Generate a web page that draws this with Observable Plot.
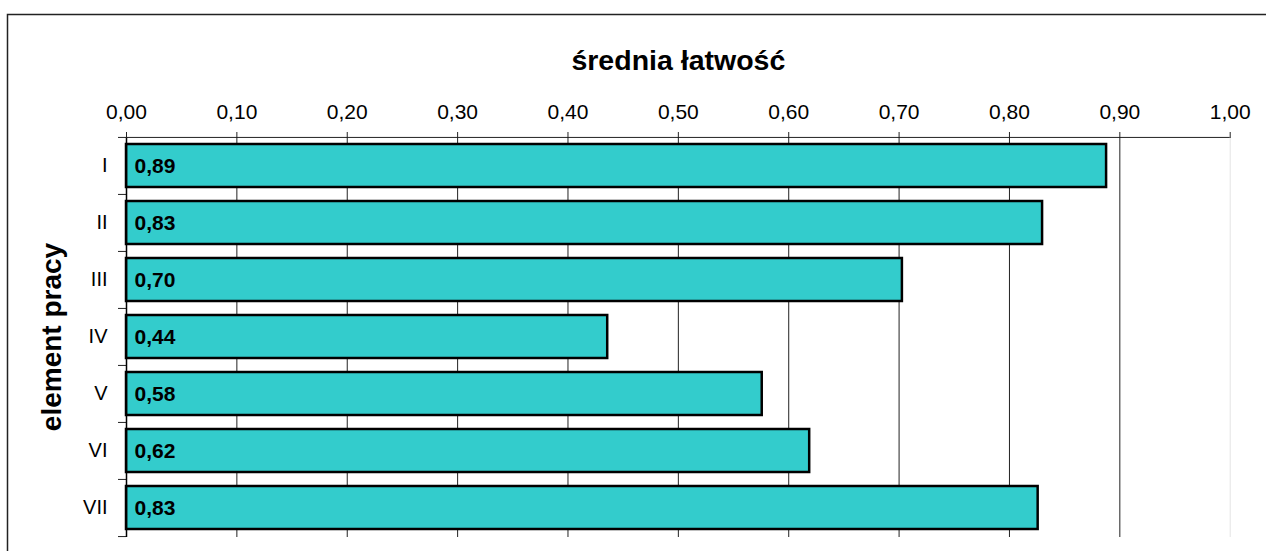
<!DOCTYPE html>
<html>
<head>
<meta charset="utf-8">
<script src="https://cdn.jsdelivr.net/npm/d3@7"></script>
<script src="https://cdn.jsdelivr.net/npm/@observablehq/plot@0.6"></script>
<style>
  html, body { margin: 0; padding: 0; background: #fff; }
  #chart { width: 1266px; height: 551px; overflow: hidden; }
  svg { font-family: "Liberation Sans", Arial, sans-serif; }
</style>
</head>
<body>
<div id="chart"></div>
<script>
const categories = ["I", "II", "III", "IV", "V", "VI", "VII"];
const values = [0.888, 0.830, 0.703, 0.436, 0.576, 0.619, 0.826];
const xTicks = [0, 0.1, 0.2, 0.3, 0.4, 0.5, 0.6, 0.7, 0.8, 0.9, 1.0];
const xTitle = "średnia łatwość";
const yTitle = "element pracy";

const data = categories.map((c, i) => ({cat: c, value: values[i]}));
const fmt = v => d3.format(".2f")(v).replace(".", ",");

const W = 1266, H = 551;
const mL = 126, mR = 36.3, mT = 137, mB = 14;
const step = (H - mT - mB) / categories.length;
const pxPerUnit = (W - mL - mR);
const tickLen = 8 / pxPerUnit;
const midCat = categories[Math.floor(categories.length / 2)];

const plot = Plot.plot({
  width: W,
  height: H,
  marginLeft: mL,
  marginRight: mR,
  marginTop: mT,
  marginBottom: mB,
  style: {fontFamily: '"Liberation Sans", Arial, sans-serif', background: "#fff", overflow: "visible"},
  x: {domain: [0, 1], axis: null},
  y: {domain: categories, paddingInner: 0.24, paddingOuter: 0.12, axis: null},
  marks: [
    // gridlines
    Plot.ruleX(xTicks.filter(t => t > 0 && t < 1), {stroke: "#222", strokeWidth: 1}),
    Plot.ruleX([1], {stroke: "#e4e4e4", strokeWidth: 1}),
    // category boundary ticks (left) and top axis line
    Plot.ruleY(categories, {y: d => d, dy: -step / 2, x1: -tickLen, x2: 0, stroke: "#222"}),
    Plot.ruleY([categories[categories.length - 1]], {y: d => d, dy: step / 2, x1: -tickLen, x2: 0, stroke: "#222"}),
    Plot.ruleY([categories[0]], {y: d => d, dy: -step / 2, x1: 0, x2: 1, stroke: "#222"}),
    // bars
    Plot.barX(data, {x: "value", y: "cat", fill: "#33CCCC", stroke: "#000", strokeWidth: 2.5}),
    // left axis line
    Plot.ruleX([0], {stroke: "#000", strokeWidth: 1.5}),
    // top axis ticks + labels
    Plot.axisX({anchor: "top", ticks: xTicks, tickSize: 6, tickFormat: fmt, fontSize: 21, tickPadding: 13, stroke: "#222", color: "#000", label: null}),
    // category labels
    Plot.axisY({anchor: "left", ticks: categories, tickSize: 0, tickPadding: 19, fontSize: 20, color: "#000", label: null}),
    // value labels
    Plot.text(data, {x: 0, y: "cat", text: d => fmt(d.value), textAnchor: "start", dx: 8, fontWeight: "bold", fontSize: 21, fill: "#000"}),
    // titles
    Plot.text([xTitle], {frameAnchor: "top", dy: -77, text: d => d, fontWeight: "bold", fontSize: 28.5, fill: "#000", lineAnchor: "middle"}),
    Plot.text([yTitle], {x: 0, y: () => midCat, dx: -74, text: d => d, rotate: -90, fontWeight: "bold", fontSize: 28, fill: "#000", lineAnchor: "middle", textAnchor: "middle"})
  ]
});

document.getElementById("chart").appendChild(plot);
d3.select(plot).append("rect")
  .attr("x", 7.5).attr("y", 14.5)
  .attr("width", W).attr("height", H)
  .attr("fill", "none").attr("stroke", "#222").attr("stroke-width", 1.5);
</script>
</body>
</html>
